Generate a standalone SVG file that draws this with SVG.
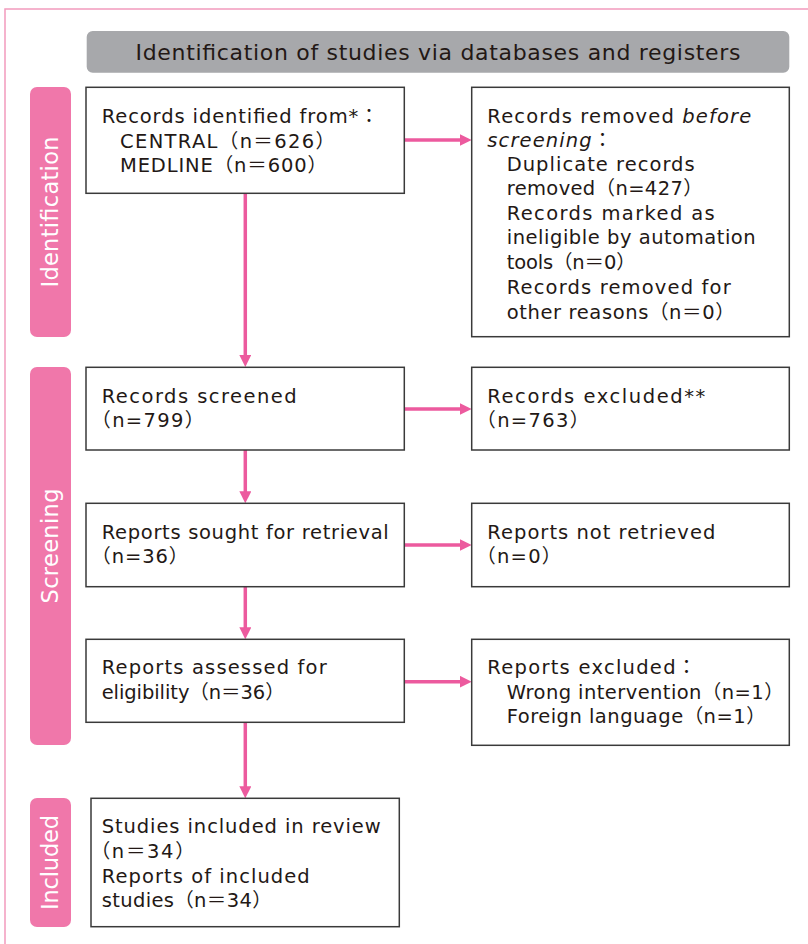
<svg xmlns="http://www.w3.org/2000/svg" width="808" height="944" viewBox="0 0 808 944">
  <defs>
    <style>
      .frame { fill: none; stroke: #f29bbd; stroke-width: 1.5; }
      .header { fill: #a7a8ab; }
      .header-text { font-family: "DejaVu Sans", "Noto Sans CJK JP", sans-serif; font-size: 22px; fill: #231815; }
      .stage { fill: #f077aa; }
      .stage-text { font-family: "DejaVu Sans", "Noto Sans CJK JP", sans-serif; font-size: 22.5px; fill: #ffffff; }
      .box { fill: #ffffff; stroke: #3a3a3a; stroke-width: 1.5; }
      .t { font-family: "DejaVu Sans", "Noto Sans CJK JP", sans-serif; font-size: 19.5px; fill: #231815; }
      .it { font-style: italic; }
      .flow { fill: none; stroke: #ec5a9e; stroke-width: 3.5; }
    </style>
    <marker id="arrow" markerUnits="userSpaceOnUse" markerWidth="12" markerHeight="12" refX="2" refY="6" orient="auto">
      <path d="M0,0 L12,6 L0,12 Z" fill="#ec5a9e"/>
    </marker>
  </defs>

  <rect width="808" height="944" fill="#ffffff"/>
  <!-- page frame -->
  <rect class="frame" x="5" y="9" width="860" height="1000"/>

  <!-- title bar -->
  <g id="title">
    <rect class="header" x="86.7" y="31" width="702.6" height="41.7" rx="6"/>
    <text class="header-text" x="438" y="60" text-anchor="middle" textLength="605" lengthAdjust="spacing">Identification of studies via databases and registers</text>
  </g>

  <!-- stage labels -->
  <g id="stage-identification">
    <rect class="stage" x="30" y="87" width="41" height="250" rx="7"/>
    <text class="stage-text" transform="translate(57.5 212) rotate(-90)" text-anchor="middle" textLength="151" lengthAdjust="spacing">Identification</text>
  </g>
  <g id="stage-screening">
    <rect class="stage" x="30" y="367" width="41" height="378" rx="7"/>
    <text class="stage-text" transform="translate(57.5 546) rotate(-90)" text-anchor="middle" textLength="115" lengthAdjust="spacing">Screening</text>
  </g>
  <g id="stage-included">
    <rect class="stage" x="30" y="798" width="41" height="129" rx="7"/>
    <text class="stage-text" transform="translate(57.5 862.5) rotate(-90)" text-anchor="middle" textLength="95" lengthAdjust="spacing">Included</text>
  </g>

  <!-- connectors -->
  <g id="connectors">
    <line class="flow" x1="245.3" y1="193.3" x2="245.3" y2="357" marker-end="url(#arrow)"/>
    <line class="flow" x1="404.3" y1="140" x2="461.7" y2="140" marker-end="url(#arrow)"/>
    <line class="flow" x1="245.3" y1="450" x2="245.3" y2="493.3" marker-end="url(#arrow)"/>
    <line class="flow" x1="404.3" y1="409" x2="461.7" y2="409" marker-end="url(#arrow)"/>
    <line class="flow" x1="245.3" y1="586.7" x2="245.3" y2="629.3" marker-end="url(#arrow)"/>
    <line class="flow" x1="404.3" y1="545" x2="461.7" y2="545" marker-end="url(#arrow)"/>
    <line class="flow" x1="245.3" y1="722.3" x2="245.3" y2="788.3" marker-end="url(#arrow)"/>
    <line class="flow" x1="404.3" y1="681.7" x2="461.7" y2="681.7" marker-end="url(#arrow)"/>
  </g>

  <!-- identification -->
  <g id="records-identified">
    <rect class="box" x="86" y="87.3" width="318.3" height="106"/>
    <text class="t" x="101.7" y="123.3" textLength="277" lengthAdjust="spacing">Records identified from*：</text>
    <text class="t" x="120" y="148" textLength="215" lengthAdjust="spacing">CENTRAL（n＝626）</text>
    <text class="t" x="120" y="172" textLength="207" lengthAdjust="spacing">MEDLINE（n＝600）</text>
  </g>

  <g id="records-removed">
    <rect class="box" x="471.7" y="87.3" width="317.6" height="249.4"/>
    <text class="t" x="487.3" y="122.7" textLength="264" lengthAdjust="spacing">Records removed <tspan class="it">before</tspan></text>
    <text class="t" x="487.3" y="146.7" textLength="125" lengthAdjust="spacing"><tspan class="it">screening</tspan>：</text>
    <text class="t" x="506.7" y="170.7" textLength="188" lengthAdjust="spacing">Duplicate records</text>
    <text class="t" x="506.7" y="195" textLength="196" lengthAdjust="spacing">removed（n=427）</text>
    <text class="t" x="506.7" y="219.7" textLength="208" lengthAdjust="spacing">Records marked as</text>
    <text class="t" x="506.7" y="244.3" textLength="249" lengthAdjust="spacing">ineligible by automation</text>
    <text class="t" x="506.7" y="269.3" textLength="129" lengthAdjust="spacing">tools（n＝0）</text>
    <text class="t" x="506.7" y="293.7" textLength="224" lengthAdjust="spacing">Records removed for</text>
    <text class="t" x="506.7" y="319.3" textLength="228" lengthAdjust="spacing">other reasons（n＝0）</text>
  </g>

  <!-- screening -->
  <g id="records-screened">
    <rect class="box" x="86" y="367.3" width="318.3" height="82.7"/>
    <text class="t" x="101.7" y="402.7" textLength="195" lengthAdjust="spacing">Records screened</text>
    <text class="t" x="91.3" y="426.7" textLength="113" lengthAdjust="spacing">（n=799）</text>
  </g>

  <g id="records-excluded">
    <rect class="box" x="471.7" y="367.3" width="317.6" height="82.7"/>
    <text class="t" x="487.3" y="402.7" textLength="218" lengthAdjust="spacing">Records excluded**</text>
    <text class="t" x="476.3" y="426.7" textLength="113" lengthAdjust="spacing">（n=763）</text>
  </g>

  <g id="reports-sought">
    <rect class="box" x="86" y="503.3" width="318.3" height="83.4"/>
    <text class="t" x="101.7" y="539.3" textLength="287" lengthAdjust="spacing">Reports sought for retrieval</text>
    <text class="t" x="91.3" y="562.7" textLength="97" lengthAdjust="spacing">（n=36）</text>
  </g>

  <g id="reports-not-retrieved">
    <rect class="box" x="471.7" y="503.3" width="317.6" height="83.4"/>
    <text class="t" x="487.3" y="539.3" textLength="228" lengthAdjust="spacing">Reports not retrieved</text>
    <text class="t" x="476.3" y="562.7" textLength="85" lengthAdjust="spacing">（n=0）</text>
  </g>

  <g id="reports-assessed">
    <rect class="box" x="86" y="639.3" width="318.3" height="83"/>
    <text class="t" x="101.7" y="674.3" textLength="225" lengthAdjust="spacing">Reports assessed for</text>
    <text class="t" x="101.7" y="699.3" textLength="183" lengthAdjust="spacing">eligibility（n＝36）</text>
  </g>

  <g id="reports-excluded">
    <rect class="box" x="471.7" y="639.3" width="317.6" height="106"/>
    <text class="t" x="487.3" y="674.3" textLength="209" lengthAdjust="spacing">Reports excluded：</text>
    <text class="t" x="506.7" y="699.3" textLength="277" lengthAdjust="spacing">Wrong intervention（n=1）</text>
    <text class="t" x="506.7" y="723.3" textLength="259" lengthAdjust="spacing">Foreign language（n=1）</text>
  </g>

  <!-- included -->
  <g id="studies-included">
    <rect class="box" x="91" y="798.3" width="308.3" height="128.4"/>
    <text class="t" x="101.7" y="833.3" textLength="279" lengthAdjust="spacing">Studies included in review</text>
    <text class="t" x="90.7" y="858.3" textLength="104" lengthAdjust="spacing">（n＝34）</text>
    <text class="t" x="101.7" y="882.7" textLength="208" lengthAdjust="spacing">Reports of included</text>
    <text class="t" x="101.7" y="906.7" textLength="170" lengthAdjust="spacing">studies（n＝34）</text>
  </g>
</svg>
